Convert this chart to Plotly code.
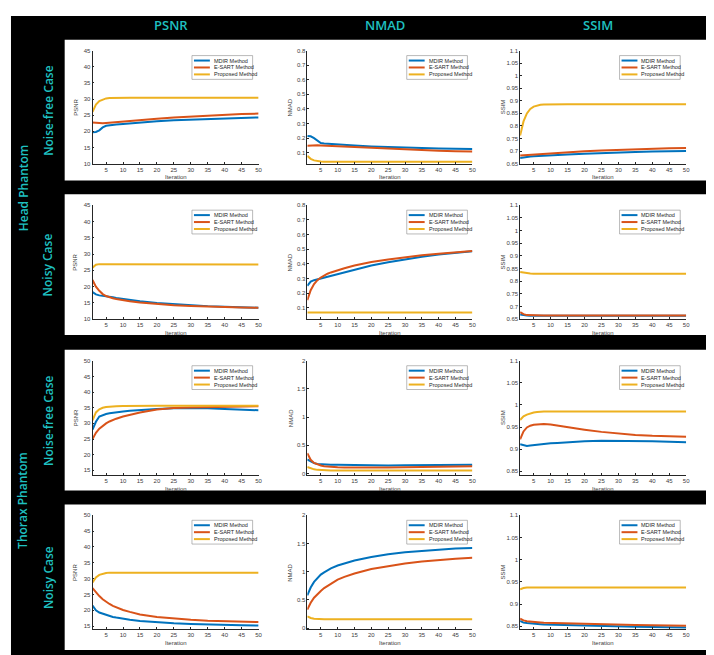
import plotly.graph_objects as go

# ---------------- data ----------------
ITER = [1, 2, 3, 4, 5, 6, 7, 8, 10, 12, 15, 20, 25, 30, 35, 40, 45, 50]
METHODS = ["MDIR Method", "E-SART Method", "Proposed Method"]
COL_TITLES = ["PSNR", "NMAD", "SSIM"]
ROW_CASES = ["Noise-free Case", "Noisy Case", "Noise-free Case", "Noisy Case"]
PHANTOMS = ["Head Phantom", "Thorax Phantom"]

# Head phantom, noise-free
head_free_psnr_mdir = [19.7, 19.8, 20.3, 21.2, 21.7, 21.9, 22.0, 22.1, 22.3, 22.5, 22.7, 23.1, 23.4, 23.6, 23.8, 24.0, 24.15, 24.3]
head_free_psnr_esart = [22.7, 22.6, 22.5, 22.5, 22.6, 22.7, 22.8, 22.9, 23.1, 23.3, 23.5, 23.9, 24.3, 24.6, 24.9, 25.1, 25.35, 25.5]
head_free_psnr_prop = [26.0, 28.3, 29.4, 29.9, 30.2, 30.3, 30.35, 30.4, 30.4, 30.4, 30.4, 30.4, 30.4, 30.4, 30.4, 30.4, 30.4, 30.4]
head_free_nmad_mdir = [0.215, 0.212, 0.200, 0.180, 0.166, 0.163, 0.161, 0.159, 0.156, 0.153, 0.149, 0.143, 0.138, 0.134, 0.131, 0.128, 0.126, 0.125]
head_free_nmad_esart = [0.148, 0.150, 0.151, 0.150, 0.149, 0.148, 0.146, 0.145, 0.142, 0.139, 0.135, 0.129, 0.124, 0.119, 0.116, 0.113, 0.110, 0.108]
head_free_nmad_prop = [0.078, 0.058, 0.047, 0.041, 0.039, 0.038, 0.038, 0.038, 0.038, 0.038, 0.038, 0.038, 0.038, 0.038, 0.038, 0.038, 0.038, 0.038]
head_free_ssim_mdir = [0.672, 0.675, 0.677, 0.678, 0.679, 0.680, 0.681, 0.682, 0.683, 0.684, 0.686, 0.689, 0.692, 0.694, 0.696, 0.698, 0.699, 0.700]
head_free_ssim_esart = [0.682, 0.683, 0.684, 0.685, 0.686, 0.687, 0.688, 0.689, 0.691, 0.692, 0.695, 0.699, 0.702, 0.705, 0.707, 0.709, 0.711, 0.712]
head_free_ssim_prop = [0.762, 0.818, 0.850, 0.868, 0.877, 0.882, 0.884, 0.885, 0.886, 0.886, 0.886, 0.886, 0.886, 0.886, 0.886, 0.886, 0.886, 0.886]

# Head phantom, noisy
head_noisy_psnr_mdir = [18.3, 17.6, 17.3, 17.2, 17.1, 16.9, 16.7, 16.5, 16.2, 15.9, 15.5, 15.0, 14.6, 14.3, 14.0, 13.8, 13.65, 13.5]
head_noisy_psnr_esart = [22.0, 20.0, 18.7, 17.7, 17.1, 16.7, 16.4, 16.2, 15.8, 15.5, 15.1, 14.6, 14.3, 14.05, 13.85, 13.7, 13.6, 13.5]
head_noisy_psnr_prop = [25.8, 26.7, 26.9, 26.9, 26.8, 26.8, 26.8, 26.8, 26.8, 26.8, 26.8, 26.8, 26.8, 26.8, 26.8, 26.8, 26.8, 26.8]
head_noisy_nmad_mdir = [0.250, 0.278, 0.288, 0.294, 0.300, 0.307, 0.314, 0.320, 0.333, 0.345, 0.362, 0.388, 0.410, 0.430, 0.448, 0.463, 0.476, 0.486]
head_noisy_nmad_esart = [0.152, 0.220, 0.262, 0.288, 0.306, 0.320, 0.332, 0.341, 0.357, 0.370, 0.388, 0.412, 0.430, 0.445, 0.458, 0.469, 0.478, 0.487]
head_noisy_nmad_prop = [0.068] * 18
head_noisy_ssim_mdir = [0.668, 0.665, 0.664, 0.6635, 0.6635, 0.6635, 0.6635, 0.6635, 0.6635, 0.6635, 0.6635, 0.6635, 0.6635, 0.6635, 0.6635, 0.6635, 0.6635, 0.6635]
head_noisy_ssim_esart = [0.678, 0.670, 0.666, 0.665, 0.664, 0.664, 0.664, 0.664, 0.664, 0.664, 0.664, 0.664, 0.664, 0.664, 0.664, 0.664, 0.664, 0.664]
head_noisy_ssim_prop = [0.836, 0.833, 0.831, 0.830, 0.829, 0.829, 0.829, 0.829, 0.829, 0.829, 0.829, 0.829, 0.829, 0.829, 0.829, 0.829, 0.829, 0.829]

# Thorax phantom, noise-free
thor_free_psnr_mdir = [28.0, 30.5, 32.2, 32.7, 33.0, 33.2, 33.4, 33.5, 33.8, 34.0, 34.3, 34.6, 34.8, 34.85, 34.8, 34.6, 34.4, 34.2]
thor_free_psnr_esart = [25.0, 27.0, 28.3, 29.3, 30.0, 30.6, 31.1, 31.5, 32.2, 32.8, 33.5, 34.4, 34.9, 35.1, 35.2, 35.3, 35.4, 35.5]
thor_free_psnr_prop = [31.0, 33.5, 34.5, 35.0, 35.2, 35.35, 35.45, 35.5, 35.55, 35.6, 35.6, 35.6, 35.6, 35.6, 35.6, 35.6, 35.6, 35.6]
thor_free_nmad_mdir = [0.250, 0.210, 0.185, 0.172, 0.166, 0.162, 0.160, 0.158, 0.155, 0.152, 0.148, 0.145, 0.145, 0.147, 0.150, 0.152, 0.155, 0.158]
thor_free_nmad_esart = [0.360, 0.245, 0.190, 0.160, 0.143, 0.132, 0.125, 0.120, 0.112, 0.108, 0.105, 0.105, 0.108, 0.113, 0.118, 0.122, 0.126, 0.130]
thor_free_nmad_prop = [0.118, 0.090, 0.075, 0.066, 0.061, 0.058, 0.056, 0.055, 0.054, 0.054, 0.054, 0.054, 0.054, 0.054, 0.054, 0.054, 0.054, 0.054]
thor_free_ssim_mdir = [0.911, 0.909, 0.907, 0.908, 0.909, 0.910, 0.911, 0.912, 0.913, 0.914, 0.916, 0.918, 0.919, 0.919, 0.9185, 0.9175, 0.9165, 0.9155]
thor_free_ssim_esart = [0.922, 0.940, 0.949, 0.953, 0.955, 0.956, 0.957, 0.957, 0.9555, 0.953, 0.950, 0.944, 0.939, 0.935, 0.932, 0.930, 0.929, 0.928]
thor_free_ssim_prop = [0.966, 0.974, 0.978, 0.981, 0.983, 0.984, 0.985, 0.985, 0.985, 0.985, 0.985, 0.985, 0.985, 0.985, 0.985, 0.985, 0.985, 0.985]

# Thorax phantom, noisy
thor_noisy_psnr_mdir = [21.5, 20.0, 19.3, 18.9, 18.5, 18.2, 17.9, 17.7, 17.3, 17.0, 16.6, 16.2, 15.9, 15.7, 15.5, 15.4, 15.3, 15.2]
thor_noisy_psnr_esart = [27.0, 25.7, 24.5, 23.5, 22.7, 22.0, 21.4, 20.9, 20.1, 19.5, 18.7, 17.9, 17.4, 17.0, 16.7, 16.5, 16.4, 16.3]
thor_noisy_psnr_prop = [28.8, 30.4, 31.2, 31.6, 31.8, 31.9, 31.9, 31.9, 31.9, 31.9, 31.9, 31.9, 31.9, 31.9, 31.9, 31.9, 31.9, 31.9]
thor_noisy_nmad_mdir = [0.58, 0.72, 0.82, 0.89, 0.95, 0.99, 1.03, 1.06, 1.11, 1.15, 1.20, 1.26, 1.31, 1.345, 1.37, 1.395, 1.41, 1.42]
thor_noisy_nmad_esart = [0.33, 0.45, 0.54, 0.61, 0.66, 0.71, 0.75, 0.79, 0.86, 0.91, 0.97, 1.05, 1.10, 1.145, 1.18, 1.21, 1.23, 1.25]
thor_noisy_nmad_prop = [0.21, 0.18, 0.167, 0.161, 0.158, 0.157, 0.157, 0.157, 0.157, 0.157, 0.157, 0.157, 0.157, 0.157, 0.157, 0.157, 0.157, 0.157]
thor_noisy_ssim_mdir = [0.862, 0.858, 0.857, 0.856, 0.8555, 0.855, 0.8545, 0.854, 0.8535, 0.853, 0.852, 0.851, 0.850, 0.849, 0.8485, 0.848, 0.8475, 0.847]
thor_noisy_ssim_esart = [0.867, 0.863, 0.861, 0.860, 0.8595, 0.859, 0.8585, 0.858, 0.8575, 0.857, 0.856, 0.855, 0.854, 0.853, 0.8525, 0.852, 0.8515, 0.851]
thor_noisy_ssim_prop = [0.933, 0.936, 0.937, 0.937, 0.937, 0.937, 0.937, 0.937, 0.937, 0.937, 0.937, 0.937, 0.937, 0.937, 0.937, 0.937, 0.937, 0.937]

# tick labels
X_TICKS = [5, 10, 15, 20, 25, 30, 35, 40, 45, 50]
PSNR_TICKS_A = [10, 15, 20, 25, 30, 35, 40, 45]
PSNR_TICKS_B = [15, 20, 25, 30, 35, 40, 45, 50]
NMAD_TICKS_A = [0.1, 0.2, 0.3, 0.4, 0.5, 0.6, 0.7, 0.8]
NMAD_TICKS_B = [0, 0.5, 1, 1.5, 2]
SSIM_TICKS_A = [0.65, 0.7, 0.75, 0.8, 0.85, 0.9, 0.95, 1, 1.05, 1.1]
SSIM_TICKS_B = [0.85, 0.9, 0.95, 1, 1.05, 1.1]

grid = [
    [(head_free_psnr_mdir, head_free_psnr_esart, head_free_psnr_prop),
     (head_free_nmad_mdir, head_free_nmad_esart, head_free_nmad_prop),
     (head_free_ssim_mdir, head_free_ssim_esart, head_free_ssim_prop)],
    [(head_noisy_psnr_mdir, head_noisy_psnr_esart, head_noisy_psnr_prop),
     (head_noisy_nmad_mdir, head_noisy_nmad_esart, head_noisy_nmad_prop),
     (head_noisy_ssim_mdir, head_noisy_ssim_esart, head_noisy_ssim_prop)],
    [(thor_free_psnr_mdir, thor_free_psnr_esart, thor_free_psnr_prop),
     (thor_free_nmad_mdir, thor_free_nmad_esart, thor_free_nmad_prop),
     (thor_free_ssim_mdir, thor_free_ssim_esart, thor_free_ssim_prop)],
    [(thor_noisy_psnr_mdir, thor_noisy_psnr_esart, thor_noisy_psnr_prop),
     (thor_noisy_nmad_mdir, thor_noisy_nmad_esart, thor_noisy_nmad_prop),
     (thor_noisy_ssim_mdir, thor_noisy_ssim_esart, thor_noisy_ssim_prop)],
]
y_ranges = [
    [[10, 45], [0.025, 0.8], [0.65, 1.1]],
    [[10, 45], [0.022, 0.8], [0.65, 1.1]],
    [[13.6, 50], [-0.02, 2], [0.842, 1.1]],
    [[14.0, 50], [-0.02, 2], [0.843, 1.1]],
]
y_ticks = [
    [PSNR_TICKS_A, NMAD_TICKS_A, SSIM_TICKS_A],
    [PSNR_TICKS_A, NMAD_TICKS_A, SSIM_TICKS_A],
    [PSNR_TICKS_B, NMAD_TICKS_B, SSIM_TICKS_B],
    [PSNR_TICKS_B, NMAD_TICKS_B, SSIM_TICKS_B],
]

# ---------------- styling / layout ----------------
W, H = 714, 655
COLORS = ["#0072BD", "#D95319", "#EDB120"]
TEAL = "#1fc0c0"
AX = "#262626"
TICKC = "#404040"


def fx(x):
    return x / W


def fy(y):
    return 1 - y / H


COLS_PX = [(85, 252), (301, 467), (515, 682)]
ROWS_PX = [(40, 154), (196, 311), (353, 468), (509, 624)]
PANELS_PX = [(29, 171), (185, 327), (342, 484), (498, 645)]


def fmt(v):
    return "%g" % v


fig = go.Figure()
layout = dict(
    width=W, height=H, margin=dict(l=0, r=0, t=0, b=0),
    paper_bgcolor="white", plot_bgcolor="rgba(0,0,0,0)",
    showlegend=False,
)
shapes = []
annotations = []

# background black frame and white panels
shapes.append(dict(type="rect", xref="paper", yref="paper", x0=fx(3), x1=fx(708), y0=fy(653), y1=fy(5),
                   fillcolor="black", line=dict(width=0), layer="below"))
for (t, b) in PANELS_PX:
    shapes.append(dict(type="rect", xref="paper", yref="paper", x0=fx(57), x1=fx(703), y0=fy(b), y1=fy(t),
                       fillcolor="white", line=dict(width=0), layer="below"))

n = 0
for r in range(4):
    for c in range(3):
        n += 1
        xa = "x" if n == 1 else f"x{n}"
        ya = "y" if n == 1 else f"y{n}"
        xk = "xaxis" if n == 1 else f"xaxis{n}"
        yk = "yaxis" if n == 1 else f"yaxis{n}"
        l, rr = COLS_PX[c]
        t, b = ROWS_PX[r]
        series = grid[r][c]
        for k in range(3):
            fig.add_trace(go.Scatter(x=ITER, y=series[k], mode="lines", name=METHODS[k],
                                     line=dict(color=COLORS[k], width=2), xaxis=xa, yaxis=ya,
                                     showlegend=False))
        layout[xk] = dict(domain=[fx(l), fx(rr)], anchor=ya, range=[1, 50],
                          tickvals=X_TICKS, ticktext=[fmt(v) for v in X_TICKS],
                          ticks="inside", ticklen=2, tickcolor=AX, tickwidth=0.6,
                          showline=True, linecolor=AX, linewidth=0.7, showgrid=False, zeroline=False,
                          tickfont=dict(family="Liberation Sans", size=6, color=TICKC))
        yt = y_ticks[r][c]
        layout[yk] = dict(domain=[fy(b), fy(t)], anchor=xa, range=y_ranges[r][c],
                          tickvals=yt, ticktext=[fmt(v) for v in yt],
                          ticks="inside", ticklen=2, tickcolor=AX, tickwidth=0.6,
                          showline=True, linecolor=AX, linewidth=0.7, showgrid=False, zeroline=False,
                          tickfont=dict(family="Liberation Sans", size=6, color=TICKC))
        wpx = rr - l
        hpx = b - t
        # axis titles
        annotations.append(dict(text="Iteration", xref=f"{xa} domain", yref=f"{ya} domain",
                                x=0.5, y=-14 / hpx, showarrow=False, xanchor="center", yanchor="middle",
                                font=dict(family="Liberation Sans", size=6, color=TICKC)))
        annotations.append(dict(text=COL_TITLES[c], xref=f"{xa} domain", yref=f"{ya} domain",
                                x=-17 / wpx, y=0.5, showarrow=False, textangle=-90,
                                xanchor="center", yanchor="middle",
                                font=dict(family="Liberation Sans", size=6, color=TICKC)))
        # legend box
        shapes.append(dict(type="rect", xref=f"{xa} domain", yref=f"{ya} domain",
                           x0=100 / wpx, x1=161 / wpx, y0=1 - 29 / hpx, y1=1 - 5 / hpx,
                           fillcolor="white", line=dict(color="#8c8c8c", width=0.6), layer="above"))
        for k in range(3):
            yy = 1 - (10 + 7 * k) / hpx
            shapes.append(dict(type="line", xref=f"{xa} domain", yref=f"{ya} domain",
                               x0=102 / wpx, x1=118 / wpx, y0=yy, y1=yy,
                               line=dict(color=COLORS[k], width=2), layer="above"))
            annotations.append(dict(text=METHODS[k], xref=f"{xa} domain", yref=f"{ya} domain",
                                    x=120 / wpx, y=yy, showarrow=False, xanchor="left", yanchor="middle",
                                    font=dict(family="Liberation Sans", size=5.5, color=AX)))

# column headers
for c in range(3):
    l, rr = COLS_PX[c]
    annotations.append(dict(text=COL_TITLES[c], xref="paper", yref="paper",
                            x=fx((l + rr) / 2 - 5), y=fy(14), showarrow=False,
                            xanchor="center", yanchor="middle",
                            font=dict(family="Open Sans", size=13, color=TEAL, weight=600)))
# row labels
for r in range(4):
    t, b = PANELS_PX[r]
    annotations.append(dict(text=ROW_CASES[r], xref="paper", yref="paper",
                            x=fx(40), y=fy((t + b) / 2), showarrow=False, textangle=-90,
                            xanchor="center", yanchor="middle",
                            font=dict(family="Open Sans", size=12, color=TEAL, weight=600)))
for p in range(2):
    t = PANELS_PX[2 * p][0]
    b = PANELS_PX[2 * p + 1][1]
    annotations.append(dict(text=PHANTOMS[p], xref="paper", yref="paper",
                            x=fx(15), y=fy((t + b) / 2), showarrow=False, textangle=-90,
                            xanchor="center", yanchor="middle",
                            font=dict(family="Open Sans", size=12, color=TEAL, weight=600)))

layout["shapes"] = shapes
layout["annotations"] = annotations
fig.update_layout(**layout)
fig.write_html("out.html")
